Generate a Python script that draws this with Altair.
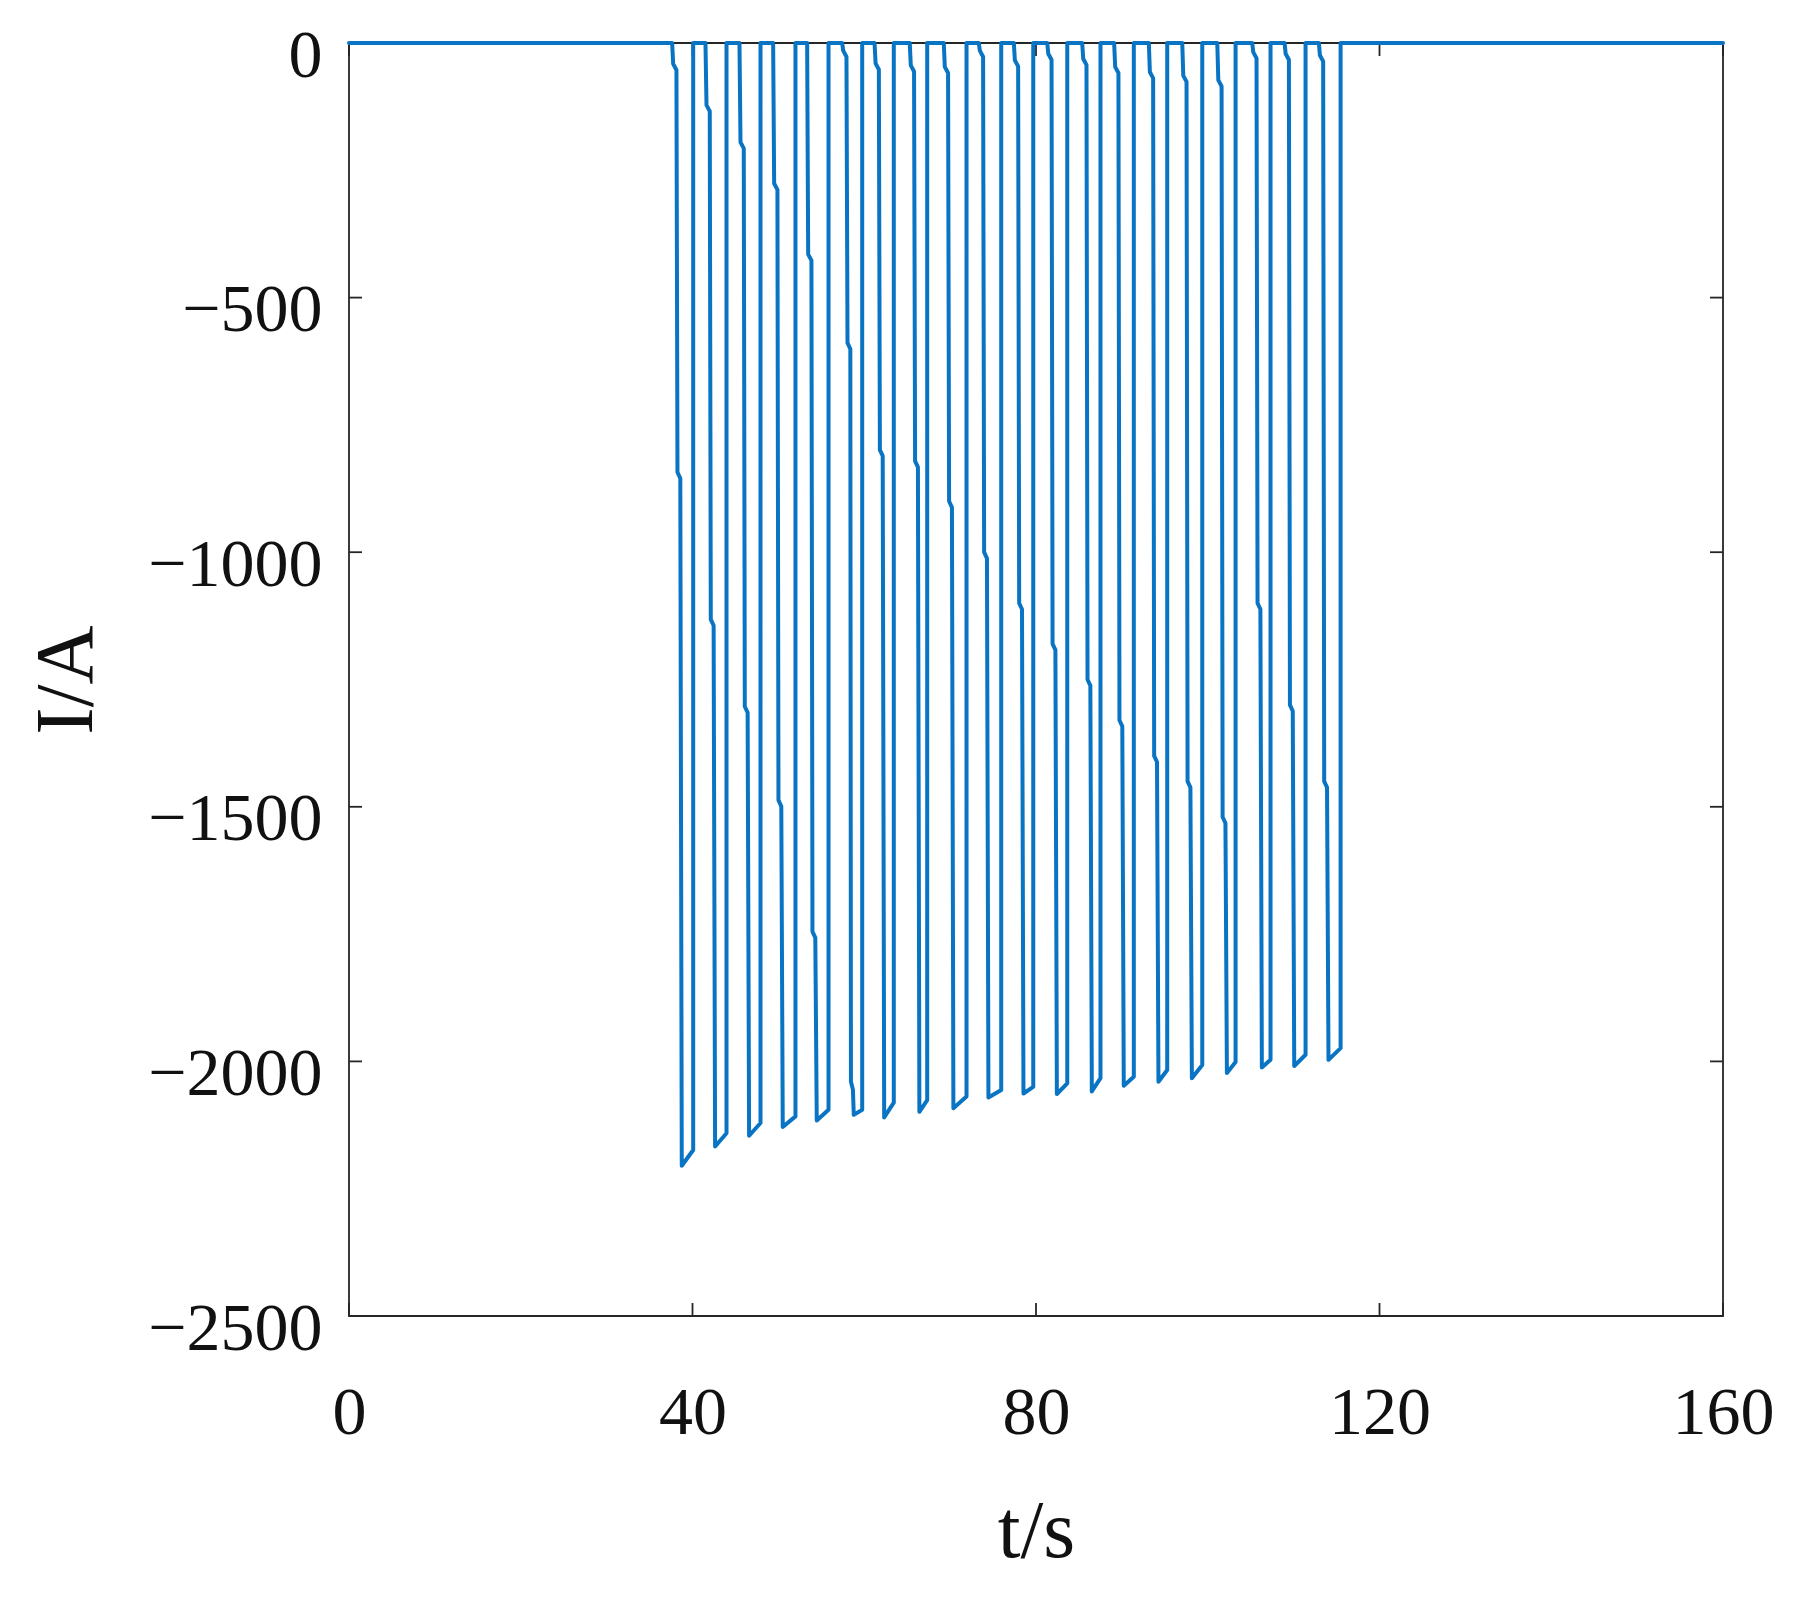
import altair as alt
import pandas as pd

# pulse timing (s)
fall_t = [37.63, 41.51, 45.47, 49.39, 53.35, 57.43, 61.20, 65.30, 69.26, 73.34,
          77.42, 81.31, 85.38, 89.10, 93.14, 97.03, 101.11, 105.18, 108.95, 112.94]
rise_t = [40.08, 43.96, 47.92, 51.99, 55.84, 59.76, 63.44, 67.33, 71.91, 75.95,
          79.68, 83.64, 87.51, 91.39, 95.28, 99.36, 103.24, 107.31, 111.39, 115.47]
# current levels (A)
knee1 = [-41, -122, -195, -276, -415, -15, -40, -44, -47, -15,
         -34, -21, -31, -47, -57, -64, -73, -18, -21, -24]
knee2 = [-843, -1132, -1303, -1487, -1745, -589, -799, -821, -900, -1000,
         -1100, -1180, -1250, -1330, -1400, -1450, -1520, -1100, -1300, -1450]
knee3 = {5: -2040}
bottom = [-2205, -2167, -2146, -2129, -2116, -2105, -2110, -2099, -2092, -2071,
          -2063, -2064, -2059, -2048, -2040, -2033, -2023, -2012, -2009, -1997]
bottom_end = [-2174, -2141, -2121, -2108, -2095, -2095, -2081, -2076, -2069, -2056,
              -2050, -2043, -2033, -2030, -2017, -2007, -2001, -1997, -1987, -1974]
# time offsets of the sample points inside a falling edge (s)
edge_dt = [0.12, 0.5, 0.62, 0.95]
bottom_dt = 1.12
bottom_dt3 = [1.02, 1.25, 1.35]

x_ticks = [0, 40, 80, 120, 160]
y_ticks = [0, -500, -1000, -1500, -2000, -2500]

rows = [(0.0, 0.0)]
for i in range(len(fall_t)):
    tf, tr = fall_t[i], rise_t[i]
    pts = [(tf, 0.0),
           (tf + edge_dt[0], knee1[i]), (tf + edge_dt[1], knee1[i] - 12),
           (tf + edge_dt[2], knee2[i]), (tf + edge_dt[3], knee2[i] - 12)]
    bt = tf + bottom_dt
    if i in knee3:
        pts += [(tf + bottom_dt3[0], knee3[i]), (tf + bottom_dt3[1], knee3[i] - 15)]
        bt = tf + bottom_dt3[2]
    pts += [(bt, bottom[i]), (tr, bottom_end[i]), (tr, 0.0)]
    rows += pts
rows.append((160.0, 0.0))
df = pd.DataFrame(rows, columns=["t", "I"])
df["o"] = range(len(df))

W, H = 1374, 1273
TL = 13
AX = "#262626"
FONT = "Liberation Serif"

xs = alt.Scale(domain=[0, 160], nice=False, zero=False)
ys = alt.Scale(domain=[-2500, 0], nice=False, zero=False)

line = alt.Chart(df).mark_line(color="#0A74C4", strokeWidth=4, strokeJoin="round",
                               strokeCap="round", clip=False).encode(
    x=alt.X("t:Q", scale=xs,
            axis=alt.Axis(values=x_ticks, format="d", title="t/s", ticks=False, domain=False,
                          grid=False, labelPadding=63, labelFlush=False, titleX=W / 2,
                          titleY=215, titleBaseline="middle", titleAlign="center")),
    y=alt.Y("I:Q", scale=ys,
            axis=alt.Axis(values=y_ticks, format="d", title="I/A", ticks=False, domain=False,
                          grid=False, labelPadding=27, labelOffset=13, labelFlush=False,
                          titleX=-283, titleY=H / 2, titleAngle=270,
                          titleBaseline="middle", titleAlign="center")),
    order="o:Q",
)

xt = pd.DataFrame({"t": x_ticks})
yt = pd.DataFrame({"I": y_ticks})
tick_style = dict(color=AX, strokeWidth=1.8)
bt_ticks = alt.Chart(xt).mark_rule(**tick_style).encode(
    x=alt.X("t:Q", scale=xs), y=alt.value(H), y2=alt.value(H - TL))
tp_ticks = alt.Chart(xt).mark_rule(**tick_style).encode(
    x=alt.X("t:Q", scale=xs), y=alt.value(0), y2=alt.value(TL))
lf_ticks = alt.Chart(yt).mark_rule(**tick_style).encode(
    y=alt.Y("I:Q", scale=ys), x=alt.value(0), x2=alt.value(TL))
rt_ticks = alt.Chart(yt).mark_rule(**tick_style).encode(
    y=alt.Y("I:Q", scale=ys), x=alt.value(W), x2=alt.value(W - TL))

chart = alt.layer(bt_ticks, tp_ticks, lf_ticks, rt_ticks, line).properties(
    width=W, height=H, background="white",
    autosize=alt.AutoSizeParams(type="none"),
    padding={"left": 341, "top": 35, "right": 70, "bottom": 280},
).configure_view(stroke=AX, strokeWidth=1.8).configure_axis(
    labelFont=FONT, labelFontSize=68, labelColor="#111111",
    titleFont=FONT, titleFontSize=82, titleColor="#111111", titleFontWeight="normal",
)

chart.save("out.html", embed_options={"renderer": "svg", "actions": False})
